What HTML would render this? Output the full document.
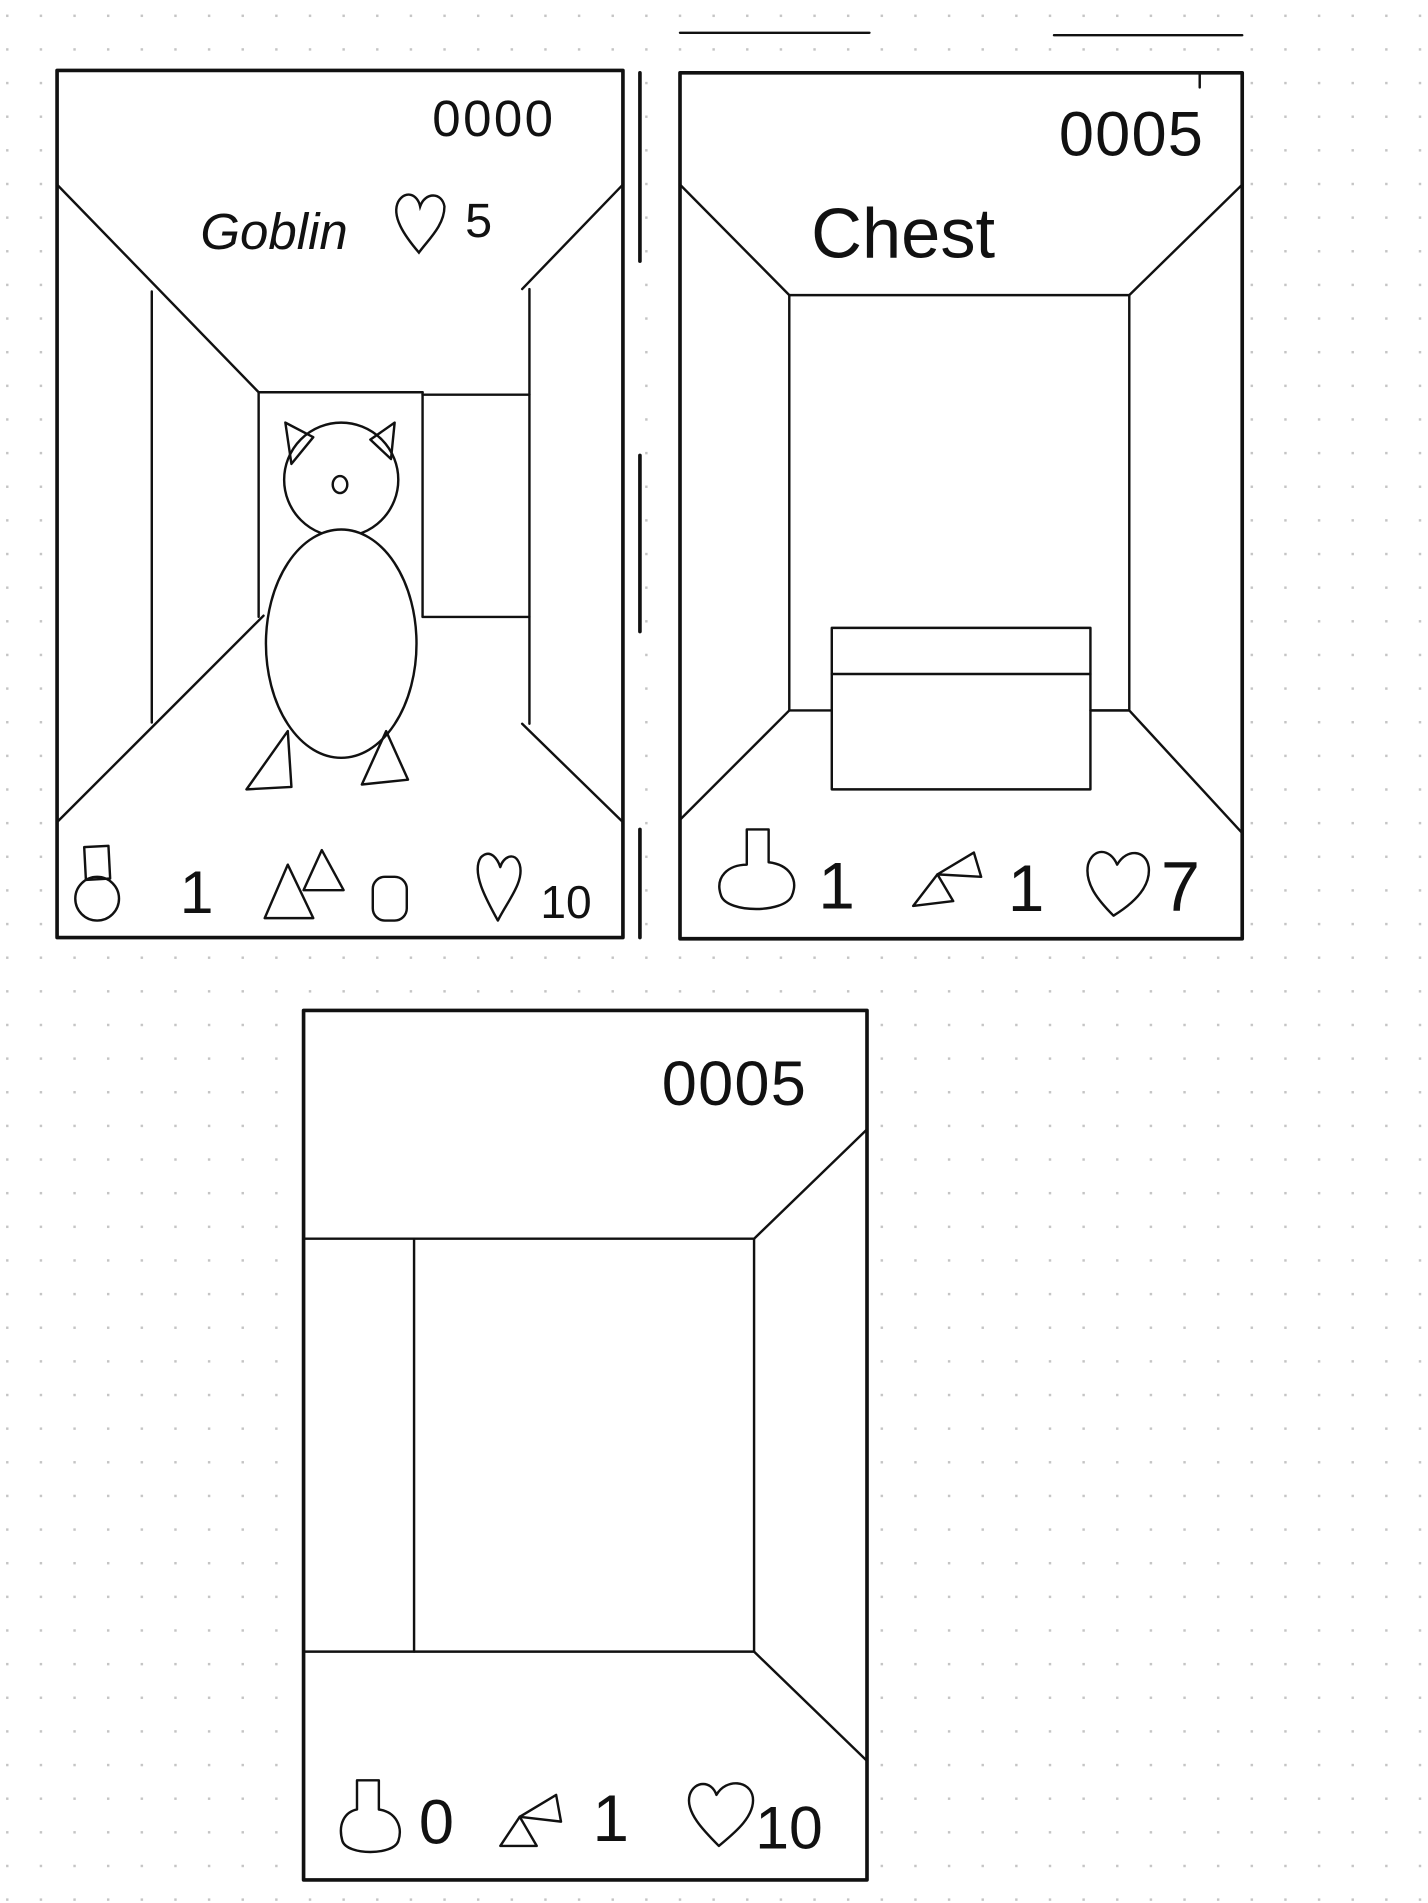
<!DOCTYPE html>
<html><head><meta charset="utf-8"><style>
html,body{margin:0;padding:0;background:#fff;}
svg{display:block;}
text{font-family:"Liberation Sans",sans-serif;fill:#111;}
</style></head><body>
<svg width="1428" height="1903" viewBox="0 0 1176 1567" preserveAspectRatio="none" xmlns="http://www.w3.org/2000/svg">
<defs>
<pattern id="dots" x="5" y="12" width="27.7" height="27.7" patternUnits="userSpaceOnUse">
<rect width="2" height="2" fill="#c4c4c4"/>
</pattern>
</defs>
<rect width="1176" height="1567" fill="url(#dots)"/>
<g fill="none" stroke="#111" stroke-width="2" stroke-linecap="round" stroke-linejoin="round">
<!-- Panel 1 -->
<rect x="47" y="58" width="466" height="714" fill="#fff" stroke-width="3"/>
<line x1="527" y1="60" x2="527" y2="215" stroke-width="3"/>
<line x1="527" y1="375" x2="527" y2="520" stroke-width="3"/>
<line x1="527" y1="683" x2="527" y2="772" stroke-width="3"/>
<line x1="47" y1="152" x2="213" y2="323"/>
<line x1="213" y1="323" x2="348" y2="323"/>
<line x1="213" y1="323" x2="213" y2="508"/>
<line x1="348" y1="323" x2="348" y2="508"/>
<line x1="125" y1="240" x2="125" y2="595"/>
<line x1="47" y1="677" x2="217" y2="507"/>
<line x1="513" y1="152" x2="430" y2="238"/>
<line x1="436" y1="238" x2="436" y2="596"/>
<line x1="348" y1="325" x2="436" y2="325"/>
<line x1="348" y1="508" x2="436" y2="508"/>
<line x1="430" y1="596" x2="513" y2="677"/>
<circle cx="281" cy="395" r="47" fill="#fff"/>
<ellipse cx="281" cy="530" rx="62" ry="94" fill="#fff"/>
<ellipse cx="280" cy="399" rx="6" ry="7"/>
<path d="M235 348 L258 360 L240 382 Z"/>
<path d="M325 348 L305 362 L322 378 Z"/>
<path d="M237 602 L203 650 L240 648 Z"/>
<path d="M318 602 L298 646 L336 642 Z"/>
<rect x="70" y="697" width="20" height="27" transform="rotate(-3 80 710)"/>
<circle cx="80" cy="740" r="18"/>
<path d="M237 712 L218 756 L258 756 Z"/>
<path d="M265 700 L250 733 L283 733 Z"/>
<rect x="307" y="722" width="28" height="36" rx="10"/>
<path d="M410 758 C400 740 388 718 396 706 C404 698 410 708 412 714 C414 706 424 700 428 712 C432 726 418 742 410 758 Z"/>
<!-- Panel 2 -->
<line x1="560" y1="27" x2="716" y2="27"/>
<line x1="868" y1="29" x2="1023" y2="29"/>
<rect x="560" y="60" width="463" height="713" fill="#fff" stroke-width="3"/>
<line x1="560" y1="152" x2="650" y2="243"/>
<line x1="1023" y1="152" x2="930" y2="243"/>
<rect x="650" y="243" width="280" height="342"/>
<line x1="560" y1="675" x2="650" y2="585"/>
<line x1="1023" y1="686" x2="930" y2="585"/>
<rect x="685" y="517" width="213" height="133" fill="#fff"/>
<line x1="685" y1="555" x2="898" y2="555"/>
<line x1="898" y1="585" x2="930" y2="585"/>
<line x1="988" y1="60" x2="988" y2="72"/>
<path d="M615 683 L633 683 L633 710 C650 712 658 724 652 738 C645 752 600 752 594 738 C588 722 600 712 615 712 Z"/>
<path d="M752 746 L772 720 L785 742 Z"/>
<path d="M772 720 L802 702 L808 722 Z"/>
<path d="M917 754 C905 742 893 728 896 712 C900 698 914 698 920 712 C928 698 944 700 946 714 C948 732 930 746 917 754 Z"/>
<!-- Panel 3 -->
<rect x="250" y="832" width="464" height="716" fill="#fff" stroke-width="3"/>
<rect x="341" y="1020" width="280" height="340"/>
<line x1="250" y1="1020" x2="341" y2="1020"/>
<line x1="250" y1="1360" x2="341" y2="1360"/>
<line x1="714" y1="930" x2="621" y2="1020"/>
<line x1="621" y1="1360" x2="714" y2="1450"/>
<path d="M294 1466 L312 1466 L312 1490 C326 1492 332 1504 328 1516 C324 1528 286 1528 282 1516 C278 1502 284 1492 294 1490 Z"/>
<path d="M412 1520 L428 1496 L442 1520 Z"/>
<path d="M428 1496 L458 1478 L462 1500 Z"/>
<path d="M592 1520 C580 1508 564 1492 568 1478 C572 1466 586 1466 590 1478 C598 1464 618 1466 620 1480 C622 1496 604 1510 592 1520 Z"/>
</g>
<g>
<text x="356" y="112" font-size="42" letter-spacing="2">0000</text>
<text x="165" y="205" font-size="42" font-style="italic">Goblin</text>
<path d="M345 208 C333 194 322 178 328 166 C334 156 344 160 346 170 C350 158 364 158 366 170 C366 186 352 198 345 208 Z" fill="none" stroke="#111" stroke-width="2"/>
<text x="383" y="195" font-size="40">5</text>
<text x="148" y="752" font-size="50">1</text>
<text x="445" y="756" font-size="38">10</text>
<text x="872" y="128" font-size="52" letter-spacing="1">0005</text>
<text x="668" y="212" font-size="58">Chest</text>
<text x="674" y="748" font-size="54">1</text>
<text x="830" y="750" font-size="54">1</text>
<text x="956" y="750" font-size="58">7</text>
<text x="545" y="910" font-size="52" letter-spacing="1">0005</text>
<text x="345" y="1518" font-size="52">0</text>
<text x="488" y="1516" font-size="54">1</text>
<text x="622" y="1522" font-size="50">10</text>
</g>
</svg>
</body></html>
